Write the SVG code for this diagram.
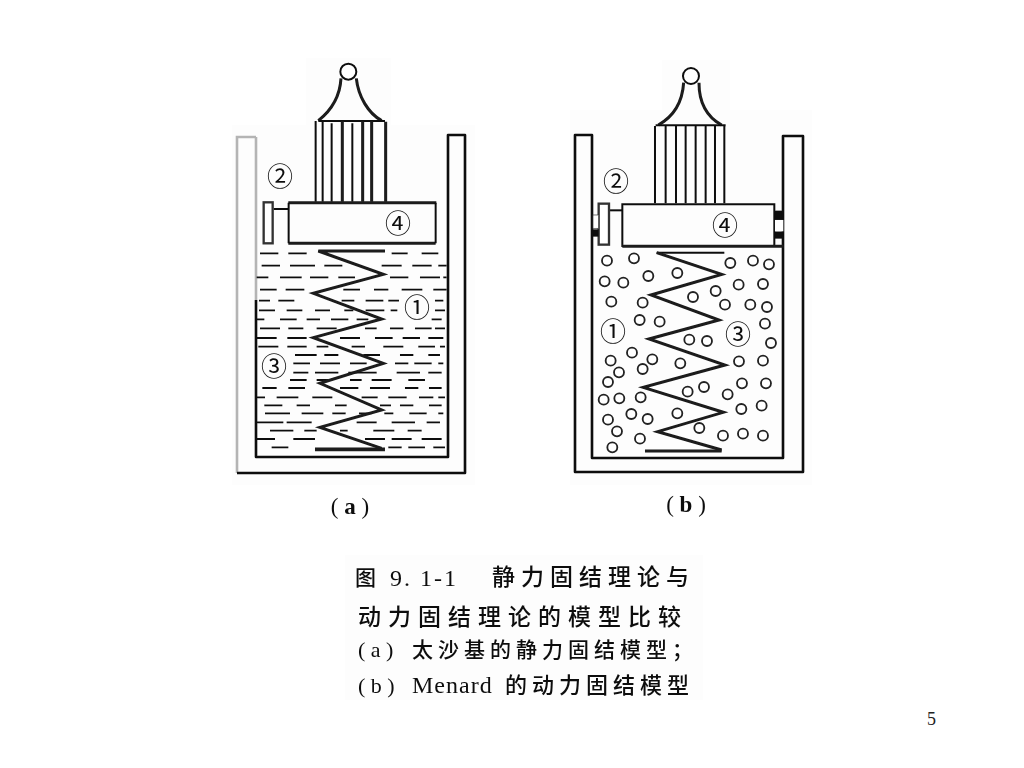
<svg xmlns="http://www.w3.org/2000/svg" width="1024" height="768" viewBox="0 0 1024 768">
<style>
.ln{fill:none;stroke:#111;stroke-width:2.6;stroke-linejoin:round}
.lt{fill:none;stroke:#b4b4b4;stroke-width:2.6}
.z{fill:none;stroke:#111;stroke-width:6}
.k{fill:#fff;stroke:#111;stroke-width:6}
.zb{fill:none;stroke:#1a1a1a;stroke-width:9;stroke-linejoin:miter}
.d{fill:none;stroke:#111;stroke-width:5.5}
.c{fill:#fff;stroke:#222;stroke-width:5.5}
.n{font-family:"Noto Sans CJK SC","DejaVu Sans",sans-serif;font-size:26px;fill:#111;text-anchor:middle}
.l{font-family:"Liberation Serif",serif;font-size:23px;fill:#111;text-anchor:middle}
.cap{font-family:"Noto Sans CJK SC",sans-serif;font-weight:500;fill:#111}
.s{font-family:"Liberation Serif","Noto Sans CJK SC",serif;fill:#111}
</style>
<defs><filter id="soft" x="-5%" y="-5%" width="110%" height="110%"><feGaussianBlur stdDeviation="0.35"/></filter></defs>
<rect width="1024" height="768" fill="#fff"/>
<g id="scan-background" fill="#fdfdfd">
<rect x="232" y="125" width="243" height="360"/>
<rect x="306" y="58" width="85" height="70"/>
<rect x="570" y="110" width="242" height="375"/>
<rect x="662" y="60" width="68" height="60"/>
<rect x="345" y="555" width="358" height="145"/>
</g>
<g filter="url(#soft)">
<g id="figure-a">
<g id="container-a">
<path class="lt" d="M237,473V137H256"/>
<path class="lt" d="M256,137V300"/>
<path class="ln" d="M256,300V457H448V135H465V473H237"/>
</g>
<g id="handle-a" transform="translate(225 50) scale(.3333)">
<path class="zb" d="M280,212C320,180 345,140 348,85M470,212C430,190 400,140 394,85"/>
<circle class="k" cx="370" cy="65" r="24"/>
<path class="z" d="M280,213H480"/>
<path class="z" d="M272,213V455M293,213V455M320,220V455M382,220V455"/>
<path class="zb" d="M352,215V455M413,215V455M440,215V455M482,215V455"/>
</g>
<g id="piston-a" transform="translate(225 50) scale(.3333)">
<path class="zb" d="M190,458H634M190,580H632"/>
<path class="z" d="M191,458V580M632,458V580"/>
<path class="z" d="M146,477H190"/>
<rect x="116" y="457" width="27" height="123" fill="#fff" stroke="#333" stroke-width="7"/>
</g>
<g id="water-a" transform="translate(225 240) scale(.3333)">
<path class="d" d="M105,40H160M190,40H245M500,40H548M590,40H640M110,77H165M195,77H270M298,77H352M470,77H530M562,77H620M640,77H665M95,112H130M165,112H230M255,112H310M340,112H390M495,112H550M585,112H645M655,112H665M105,149H155M182,149H238M355,149H405M447,149H490M530,149H592M625,149H665M102,182H135M160,182H208M350,182H388M422,182H475M490,182H522M630,182H655M102,211H150M185,211H232M270,211H315M358,211H385M422,211H478M497,211H517M630,211H660M95,238H118M165,238H215M245,238H285M318,238H370M395,238H430M620,238H650M105,265H165M190,265H235M275,265H335M420,265H455M495,265H535M570,265H620M630,265H660M95,294H155M187,294H245M345,294H405M450,294H503M533,294H585M610,294H655M100,320H160M187,320H245M275,320H310M380,320H420M475,320H535M580,320H630M645,320H660M210,345H275M298,345H340M415,345H465M525,345H565M610,345H645M205,370H255M285,370H345M375,370H425M510,370H550M568,370H620M640,370H655M205,398H250M270,398H340M370,398H455M515,398H585M610,398H650M195,420H245M275,420H310M375,420H410M440,420H500M550,420H600M112,444H155M190,444H240M345,444H400M435,444H495M540,444H580M612,444H650M95,472H120M155,472H220M262,472H322M410,472H458M490,472H545M582,472H625M640,472H660M118,496H172M215,496H255M330,496H365M465,496H498M525,496H565M612,496H650M120,520H195M230,520H295M322,520H362M402,520H440M478,520H505M553,520H605M640,520H655M95,547H175M185,547H260M395,547H455M500,547H570M605,547H645M135,572H205M238,572H275M345,572H368M445,572H508M548,572H590M95,597H150M205,597H270M420,597H480M500,597H560M590,597H650M140,622H190M490,622H530M550,622H600M625,622H660"/>
</g>
<g id="spring-a" transform="translate(225 240) scale(.3333)">
<path class="zb" d="M480,33H280L475,103L265,160L470,237L265,293L475,370L285,430L470,510L285,562L470,625"/>
<path class="zb" style="stroke-width:11" d="M270,628H480"/>
</g>
<g id="labels-a">
<text class="n" x="280" y="186">②</text>
<text class="n" x="398" y="233">④</text>
<text class="n" x="417" y="317">①</text>
<text class="n" x="274" y="376">③</text>
</g>
<text id="label-a" class="l" x="350" y="514">( <tspan font-weight="bold">a</tspan> )</text>
</g>
<g id="figure-b">
<g id="container-b">
<path class="ln" d="M575,472V135H592V458H783V136H803V472Z"/>
</g>
<g id="handle-b" transform="translate(565 50) scale(.3333)">
<path class="zb" d="M280,225C325,200 352,160 356,98M470,225C425,200 402,160 402,98"/>
<circle class="k" cx="378" cy="78" r="24"/>
<path class="z" d="M272,226H482"/>
<path class="z" d="M270,228V460M302,228V460M333,228V460M362,228V460M392,228V460M422,228V460M450,228V460M478,228V460"/>
</g>
<g id="piston-b" transform="translate(565 50) scale(.3333)">
<path class="z" d="M172,463H628V588H172Z"/>
<path class="zb" d="M172,589H655"/>
<path class="z" d="M132,481H172"/>
<rect x="101" y="461" width="31" height="123" fill="#fff" stroke="#333" stroke-width="7"/>
<rect x="84" y="495" width="17" height="40" fill="#fff" stroke="#333" stroke-width="2"/>
<rect x="84" y="538" width="17" height="22" fill="#111"/>
<rect x="630" y="482" width="25" height="28" fill="#111"/>
<rect x="630" y="544" width="25" height="22" fill="#111"/>
<rect x="630" y="510" width="25" height="34" fill="#fff"/>
</g>
<g id="soil-b" transform="translate(565 240) scale(.3333)">
<g class="c">
<circle cx="126" cy="62" r="15"/><circle cx="207" cy="55" r="15"/><circle cx="496" cy="69" r="15"/><circle cx="564" cy="62" r="15"/><circle cx="612" cy="73" r="15"/><circle cx="119" cy="124" r="15"/><circle cx="175" cy="128" r="15"/><circle cx="250" cy="108" r="15"/><circle cx="337" cy="99" r="15"/><circle cx="521" cy="134" r="15"/><circle cx="594" cy="132" r="15"/><circle cx="452" cy="153" r="15"/><circle cx="384" cy="171" r="15"/><circle cx="139" cy="185" r="15"/><circle cx="233" cy="188" r="15"/><circle cx="480" cy="194" r="15"/><circle cx="556" cy="194" r="15"/><circle cx="606" cy="201" r="15"/><circle cx="224" cy="240" r="15"/><circle cx="284" cy="245" r="15"/><circle cx="600" cy="251" r="15"/><circle cx="373" cy="299" r="15"/><circle cx="426" cy="303" r="15"/><circle cx="618" cy="309" r="15"/><circle cx="201" cy="338" r="15"/><circle cx="137" cy="362" r="15"/><circle cx="262" cy="358" r="15"/><circle cx="233" cy="387" r="15"/><circle cx="162" cy="397" r="15"/><circle cx="346" cy="370" r="15"/><circle cx="522" cy="364" r="15"/><circle cx="594" cy="362" r="15"/><circle cx="129" cy="426" r="15"/><circle cx="531" cy="430" r="15"/><circle cx="603" cy="430" r="15"/><circle cx="417" cy="441" r="15"/><circle cx="368" cy="455" r="15"/><circle cx="488" cy="463" r="15"/><circle cx="116" cy="479" r="15"/><circle cx="163" cy="475" r="15"/><circle cx="227" cy="472" r="15"/><circle cx="529" cy="507" r="15"/><circle cx="590" cy="497" r="15"/><circle cx="129" cy="539" r="15"/><circle cx="199" cy="522" r="15"/><circle cx="248" cy="537" r="15"/><circle cx="337" cy="520" r="15"/><circle cx="156" cy="574" r="15"/><circle cx="403" cy="564" r="15"/><circle cx="474" cy="587" r="15"/><circle cx="534" cy="581" r="15"/><circle cx="594" cy="587" r="15"/><circle cx="225" cy="596" r="15"/><circle cx="142" cy="622" r="15"/>
</g>
</g>
<g id="spring-b" transform="translate(565 240) scale(.3333)">
<path class="z" d="M478,38H275"/>
<path class="zb" d="M275,38L470,103L258,165L462,240L252,297L480,375L235,442L475,517L278,575L470,630"/>
<path class="zb" d="M240,633H470"/>
</g>
<g id="labels-b">
<text class="n" x="616" y="191">②</text>
<text class="n" x="725" y="235">④</text>
<text class="n" x="613" y="341">①</text>
<text class="n" x="738" y="344">③</text>
</g>
<text id="label-b" class="l" x="686" y="512">( <tspan font-weight="bold">b</tspan> )</text>
</g>
<g id="caption">
<text class="cap" x="355" y="585" font-size="21">图</text>
<text class="s" x="390" y="586" font-size="24" letter-spacing="2">9. 1-1</text>
<text class="cap" x="492" y="585" font-size="23" letter-spacing="6">静力固结理论与</text>
<text class="cap" x="358" y="625" font-size="23" letter-spacing="7">动力固结理论的模型比较</text>
<text class="s" x="358" y="657" font-size="22">( a )</text>
<text class="cap" x="412" y="657" font-size="21" letter-spacing="5">太沙基的静力固结模型；</text>
<text class="s" x="358" y="693" font-size="22">( b )</text>
<text class="s" x="412" y="693" font-size="24" letter-spacing="1">Menard</text>
<text class="cap" x="505" y="693" font-size="22" letter-spacing="5">的动力固结模型</text>
</g>
</g>
<text id="page-number" x="927" y="725" font-family="Liberation Serif, serif" font-size="18" fill="#222">5</text>
</svg>
